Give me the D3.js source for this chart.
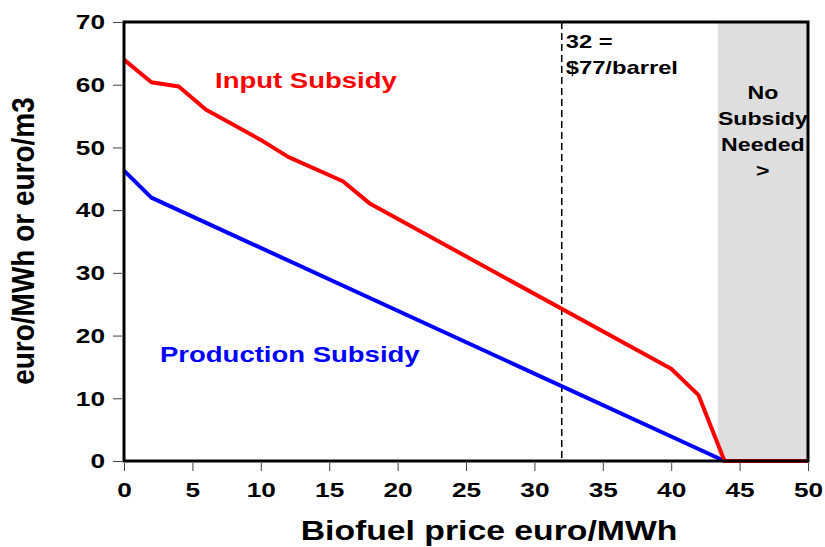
<!DOCTYPE html>
<html>
<head>
<meta charset="utf-8">
<script src="https://cdn.jsdelivr.net/npm/d3@7"></script>
<style>
  body { margin: 0; background: #fff; }
  svg text { font-family: "Liberation Sans", Arial, sans-serif; font-weight: bold; }
</style>
</head>
<body>
<div id="chart"></div>
<script>
// Biofuel price (euro/MWh) vs subsidy needed
const inputPrice = [0, 2, 4, 6, 8, 10, 12, 16, 18, 40, 42, 43.9, 50];
const inputSubsidy = [64, 60.4, 59.7, 56, 53.6, 51.2, 48.5, 44.6, 41, 14.7, 10.5, 0, 0];
const prodPrice = [0, 2, 43.9, 50];
const prodSubsidy = [46.3, 42, 0, 0];
const xTicks = [0, 5, 10, 15, 20, 25, 30, 35, 40, 45, 50];
const yTicks = [0, 10, 20, 30, 40, 50, 60, 70];
const oilMarker = 32;
const noSubsidyFrom = 43.4;

const width = 825;
const height = 547;
const margin = {top: 22, right: 17, bottom: 86, left: 124};
// text in the original is stretched sideways
const sx = 1.25;

const svg = d3.select("#chart")
    .append("svg")
    .attr("width", width)
    .attr("height", height);

const x = d3.scaleLinear().domain([0, 50]).range([margin.left, width - margin.right]);
const y = d3.scaleLinear().domain([0, 70]).range([height - margin.bottom, margin.top]);

const label = (px, py, txt, size, color, anchor) => svg.append("text")
    .attr("transform", `translate(${px},${py}) scale(${sx},1)`)
    .attr("text-anchor", anchor || "start")
    .attr("font-size", size + "px")
    .attr("fill", color)
    .text(txt);

// Shaded "no subsidy" region
svg.append("rect")
    .attr("x", x(noSubsidyFrom))
    .attr("y", y(70))
    .attr("width", x(50) - x(noSubsidyFrom))
    .attr("height", y(0) - y(70))
    .attr("fill", "#dedede");

// Dashed reference line
svg.append("line")
    .attr("x1", x(oilMarker)).attr("x2", x(oilMarker))
    .attr("y1", y(70)).attr("y2", y(0))
    .attr("stroke", "#000")
    .attr("stroke-width", 1.5)
    .attr("stroke-dasharray", "7,4");

const line = d3.line().x(d => x(d[0])).y(d => y(d[1]));

svg.append("path")
    .datum(d3.zip(prodPrice, prodSubsidy))
    .attr("d", line)
    .attr("fill", "none")
    .attr("stroke", "#0000ff")
    .attr("stroke-width", 4)
    .attr("stroke-linejoin", "round");

svg.append("path")
    .datum(d3.zip(inputPrice, inputSubsidy))
    .attr("d", line)
    .attr("fill", "none")
    .attr("stroke", "#ff0000")
    .attr("stroke-width", 4)
    .attr("stroke-linejoin", "round");

// Axes
const xAxis = svg.append("g")
    .attr("transform", `translate(0,${y(0) + 2})`)
    .call(d3.axisBottom(x).tickValues(xTicks).tickSize(8).tickPadding(11).tickSizeOuter(0));
const yAxis = svg.append("g")
    .attr("transform", `translate(${x(0) - 2},0)`)
    .call(d3.axisLeft(y).tickValues(yTicks).tickSize(9).tickPadding(6).tickSizeOuter(0));

[xAxis, yAxis].forEach(g => {
    g.select(".domain").remove();
    g.selectAll(".tick line").attr("stroke", "#444").attr("stroke-width", 1);
    g.selectAll(".tick text")
        .attr("font-size", "21px")
        .attr("fill", "#000")
        .attr("transform", `scale(${sx},1)`)
        .style("font-family", "'Liberation Sans', Arial, sans-serif")
        .style("font-weight", "bold");
});
yAxis.selectAll(".tick text").attr("x", -17 / sx);

// Plot frame
svg.append("rect")
    .attr("x", x(0))
    .attr("y", y(70))
    .attr("width", x(50) - x(0))
    .attr("height", y(0) - y(70))
    .attr("fill", "none")
    .attr("stroke", "#000")
    .attr("stroke-width", 3);

// Series labels
label(215, 88, "Input Subsidy", 22, "#ff0000");
label(160, 362, "Production Subsidy", 22, "#0000ff");

// Marker note
label(x(oilMarker) + 4, 48, "32 =", 19, "#000");
label(x(oilMarker) + 4, 74, "$77/barrel", 19, "#000");

["No", "Subsidy", "Needed", ">"].forEach((t, i) => {
    label((x(noSubsidyFrom) + x(50)) / 2, 99 + i * 26, t, 18.5, "#000", "middle");
});

// Axis titles
label(489, 540, "Biofuel price euro/MWh", 27, "#000", "middle");

svg.append("text")
    .attr("transform", `translate(34,241) scale(1.15,1) rotate(-90)`)
    .attr("text-anchor", "middle")
    .attr("font-size", "28px")
    .attr("fill", "#000")
    .text("euro/MWh or euro/m3");
</script>
</body>
</html>
